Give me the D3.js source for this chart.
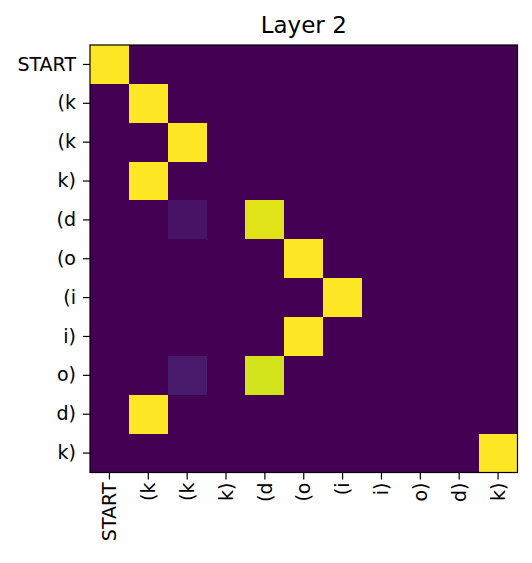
<!DOCTYPE html>
<html>
<head>
<meta charset="utf-8">
<title>Layer 2</title>
<script src="https://cdn.jsdelivr.net/npm/d3@7"></script>
<style>
  body { margin: 0; background: #fff; }
  text { font-family: "DejaVu Sans", sans-serif; fill: #000; }
</style>
</head>
<body>
<div id="chart"></div>
<script>
var tokens = ["START", "(k", "(k", "k)", "(d", "(o", "(i", "i)", "o)", "d)", "k)"];

// attention weights, one row per query token
var row0  = [1, 0, 0, 0, 0, 0, 0, 0, 0, 0, 0],
    row1  = [0, 1, 0, 0, 0, 0, 0, 0, 0, 0, 0],
    row2  = [0, 0, 1, 0, 0, 0, 0, 0, 0, 0, 0],
    row3  = [0, 1, 0, 0, 0, 0, 0, 0, 0, 0, 0],
    row4  = [0, 0, 0.05, 0, 0.95, 0, 0, 0, 0, 0, 0],
    row5  = [0, 0, 0, 0, 0, 1, 0, 0, 0, 0, 0],
    row6  = [0, 0, 0, 0, 0, 0, 1, 0, 0, 0, 0],
    row7  = [0, 0, 0, 0, 0, 1, 0, 0, 0, 0, 0],
    row8  = [0, 0, 0.07, 0, 0.93, 0, 0, 0, 0, 0, 0],
    row9  = [0, 1, 0, 0, 0, 0, 0, 0, 0, 0, 0],
    row10 = [0, 0, 0, 0, 0, 0, 0, 0, 0, 0, 1];

var rows = [row0, row1, row2, row3, row4, row5, row6, row7, row8, row9, row10];

var width = 532,
    height = 563,
    margin = {top: 45, left: 90},
    size = 427.5;

var cells = [];
rows.forEach(function(r, i) {
    r.forEach(function(v, j) { cells.push({row: i, col: j, value: v}); });
});

var idx = d3.range(tokens.length);

var x = d3.scaleBand().domain(idx).range([0, size]);
var y = d3.scaleBand().domain(idx).range([0, size]);
var color = d3.scaleSequential(d3.interpolateViridis).domain([0, 1]);

var svg = d3.select("#chart").append("svg")
    .attr("width", width)
    .attr("height", height);

var g = svg.append("g")
    .attr("transform", "translate(" + margin.left + "," + margin.top + ")");

g.selectAll("rect.cell")
    .data(cells)
    .enter().append("rect")
    .attr("class", "cell")
    .attr("x", function(d) { return x(d.col); })
    .attr("y", function(d) { return y(d.row); })
    .attr("width", x.bandwidth() + 0.5)
    .attr("height", y.bandwidth() + 0.5)
    .attr("fill", function(d) { return color(d.value); })
    .attr("shape-rendering", "crispEdges");

// frame
g.append("rect")
    .attr("width", size)
    .attr("height", size)
    .attr("fill", "none")
    .attr("stroke", "#000")
    .attr("stroke-width", 1.2);

// y axis
var yAxis = d3.axisLeft(y)
    .tickFormat(function(i) { return tokens[i]; })
    .tickSize(7)
    .tickPadding(7);

var ya = g.append("g").call(yAxis);
ya.select(".domain").remove();
ya.selectAll("line").attr("stroke", "#000").attr("stroke-width", 1.2);
ya.selectAll("text").style("font-size", "19px").attr("fill", "#000");

// x axis
var xAxis = d3.axisBottom(x)
    .tickFormat(function(i) { return tokens[i]; })
    .tickSize(7)
    .tickPadding(7);

var xa = g.append("g")
    .attr("transform", "translate(0," + size + ")")
    .call(xAxis);
xa.select(".domain").remove();
xa.selectAll("line").attr("stroke", "#000").attr("stroke-width", 1.2);
xa.selectAll("text")
    .style("font-size", "19px")
    .attr("fill", "#000")
    .attr("transform", "rotate(-90)")
    .attr("dy", "0.35em")
    .attr("y", 0)
    .attr("x", -10)
    .attr("text-anchor", "end");

// title
svg.append("text")
    .attr("x", margin.left + size / 2)
    .attr("y", 33)
    .attr("text-anchor", "middle")
    .style("font-size", "23px")
    .text("Layer 2");
</script>
</body>
</html>
